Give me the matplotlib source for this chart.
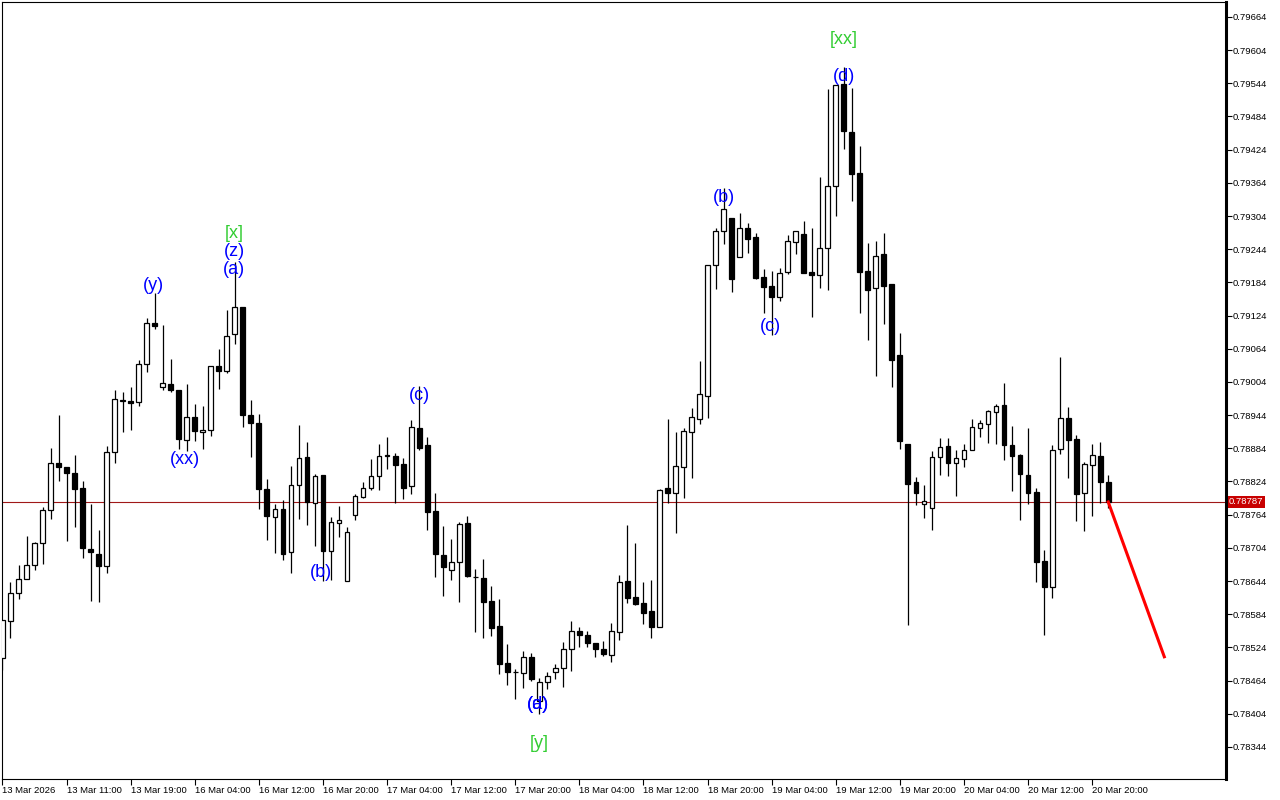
import matplotlib.pyplot as plt
import numpy as np

# hourly candles, EURGBP-like quotes
opens = [0.78505, 0.78572, 0.78622, 0.78648, 0.78673, 0.78713, 0.78772, 0.78857, 0.78850, 0.78839,
         0.78812, 0.78702, 0.78693, 0.78671, 0.78877, 0.78970, 0.78970, 0.78968, 0.79037, 0.79111,
         0.78995, 0.79000, 0.78990, 0.78899, 0.78941, 0.78914, 0.78917, 0.79033, 0.79024, 0.79091,
         0.79140, 0.78944, 0.78930, 0.78811, 0.78760, 0.78774, 0.78697, 0.78818, 0.78868, 0.78785,
         0.78836, 0.78698, 0.78749, 0.78644, 0.78764, 0.78796, 0.78812, 0.78834, 0.78870, 0.78870,
         0.78856, 0.78816, 0.78921, 0.78890, 0.78771, 0.78691, 0.78664, 0.78679, 0.78749, 0.78652,
         0.78650, 0.78608, 0.78563, 0.78496, 0.78480, 0.78478, 0.78507, 0.78427, 0.78462, 0.78480,
         0.78487, 0.78521, 0.78554, 0.78547, 0.78532, 0.78521, 0.78510, 0.78552, 0.78644, 0.78615,
         0.78604, 0.78590, 0.78561, 0.78812, 0.78803, 0.78850, 0.78914, 0.78937, 0.78979, 0.79216,
         0.79277, 0.79301, 0.79230, 0.79282, 0.79266, 0.79194, 0.79178, 0.79158, 0.79203, 0.79257,
         0.79272, 0.79203, 0.79197, 0.79246, 0.79358, 0.79543, 0.79456, 0.79382, 0.79205, 0.79174,
         0.79235, 0.79181, 0.79053, 0.78892, 0.78823, 0.78783, 0.78776, 0.78868, 0.78888, 0.78857,
         0.78865, 0.78881, 0.78921, 0.78928, 0.78950, 0.78962, 0.78890, 0.78872, 0.78836, 0.78805,
         0.78680, 0.78633, 0.78883, 0.78939, 0.78901, 0.78803, 0.78854, 0.78870, 0.78823]
highs = [0.78574, 0.78642, 0.78673, 0.78726, 0.78715, 0.78778, 0.78885, 0.78944, 0.78850, 0.78872,
         0.78825, 0.78783, 0.78736, 0.78888, 0.78990, 0.78986, 0.78995, 0.79044, 0.79120, 0.79165,
         0.79107, 0.79046, 0.78990, 0.79000, 0.78964, 0.78961, 0.79033, 0.79064, 0.79134, 0.79221,
         0.79140, 0.78971, 0.78946, 0.78829, 0.78783, 0.78791, 0.78852, 0.78926, 0.78896, 0.78838,
         0.78836, 0.78760, 0.78780, 0.78742, 0.78801, 0.78823, 0.78865, 0.78892, 0.78905, 0.78876,
         0.78867, 0.78935, 0.78997, 0.78905, 0.78803, 0.78744, 0.78720, 0.78751, 0.78762, 0.78666,
         0.78684, 0.78635, 0.78612, 0.78530, 0.78485, 0.78518, 0.78514, 0.78469, 0.78480, 0.78494,
         0.78534, 0.78572, 0.78561, 0.78554, 0.78532, 0.78536, 0.78568, 0.78655, 0.78745, 0.78713,
         0.78642, 0.78646, 0.78811, 0.78937, 0.78914, 0.78921, 0.78957, 0.79042, 0.79216, 0.79282,
         0.79355, 0.79301, 0.79310, 0.79292, 0.79273, 0.79208, 0.79205, 0.79210, 0.79270, 0.79277,
         0.79295, 0.79282, 0.79375, 0.79534, 0.79541, 0.79574, 0.79536, 0.79431, 0.79255, 0.79259,
         0.79273, 0.79181, 0.79093, 0.78892, 0.78832, 0.78818, 0.78879, 0.78903, 0.78903, 0.78881,
         0.78892, 0.78937, 0.78935, 0.78953, 0.78964, 0.79002, 0.78924, 0.78874, 0.78921, 0.78812,
         0.78700, 0.78890, 0.79049, 0.78959, 0.78908, 0.78859, 0.78892, 0.78896, 0.78836]
lows = [0.78483, 0.78541, 0.78612, 0.78648, 0.78664, 0.78675, 0.78756, 0.78825, 0.78717, 0.78742,
        0.78686, 0.78608, 0.78606, 0.78659, 0.78857, 0.78914, 0.78917, 0.78961, 0.79022, 0.79100,
        0.78990, 0.78986, 0.78883, 0.78879, 0.78897, 0.78883, 0.78906, 0.78991, 0.79020, 0.79073,
        0.78923, 0.78868, 0.78774, 0.78718, 0.78695, 0.78682, 0.78659, 0.78756, 0.78745, 0.78707,
        0.78644, 0.78646, 0.78724, 0.78644, 0.78754, 0.78794, 0.78809, 0.78809, 0.78847, 0.78785,
        0.78792, 0.78801, 0.78881, 0.78736, 0.78651, 0.78617, 0.78646, 0.78606, 0.78651, 0.78552,
        0.78541, 0.78545, 0.78476, 0.78456, 0.78431, 0.78451, 0.78463, 0.78404, 0.78449, 0.78467,
        0.78453, 0.78481, 0.78525, 0.78525, 0.78507, 0.78509, 0.78498, 0.78538, 0.78604, 0.78601,
        0.78566, 0.78541, 0.78560, 0.78785, 0.78731, 0.78794, 0.78830, 0.78928, 0.78939, 0.79172,
        0.79254, 0.79167, 0.79230, 0.79237, 0.79190, 0.79129, 0.79089, 0.79150, 0.79199, 0.79236,
        0.79201, 0.79122, 0.79174, 0.79170, 0.79304, 0.79425, 0.79331, 0.79129, 0.79080, 0.79015,
        0.79109, 0.78995, 0.78883, 0.78565, 0.78782, 0.78758, 0.78736, 0.78836, 0.78834, 0.78798,
        0.78850, 0.78881, 0.78905, 0.78894, 0.78892, 0.78863, 0.78807, 0.78754, 0.78783, 0.78642,
        0.78547, 0.78613, 0.78874, 0.78830, 0.78753, 0.78735, 0.78762, 0.78785, 0.78776]
closes = [0.78574, 0.78622, 0.78648, 0.78673, 0.78713, 0.78772, 0.78857, 0.78850, 0.78839, 0.78811,
          0.78704, 0.78697, 0.78671, 0.78877, 0.78973, 0.78971, 0.78966, 0.79037, 0.79111, 0.79105,
          0.79002, 0.78990, 0.78901, 0.78941, 0.78915, 0.78917, 0.79033, 0.79024, 0.79087, 0.79140,
          0.78944, 0.78930, 0.78811, 0.78762, 0.78774, 0.78693, 0.78818, 0.78867, 0.78787, 0.78834,
          0.78698, 0.78751, 0.78754, 0.78733, 0.78798, 0.78812, 0.78834, 0.78870, 0.78871, 0.78854,
          0.78812, 0.78923, 0.78885, 0.78769, 0.78693, 0.78670, 0.78679, 0.78747, 0.78653, 0.78651,
          0.78606, 0.78559, 0.78494, 0.78480, 0.78479, 0.78507, 0.78467, 0.78462, 0.78472, 0.78487,
          0.78521, 0.78554, 0.78547, 0.78532, 0.78521, 0.78512, 0.78554, 0.78642, 0.78613, 0.78603,
          0.78586, 0.78561, 0.78809, 0.78803, 0.78852, 0.78915, 0.78941, 0.78982, 0.79216, 0.79277,
          0.79317, 0.79190, 0.79282, 0.79263, 0.79192, 0.79176, 0.79158, 0.79201, 0.79259, 0.79277,
          0.79201, 0.79197, 0.79246, 0.79358, 0.79541, 0.79458, 0.79380, 0.79203, 0.79170, 0.79232,
          0.79178, 0.79044, 0.78897, 0.78820, 0.78803, 0.78789, 0.78868, 0.78886, 0.78857, 0.78867,
          0.78881, 0.78923, 0.78930, 0.78952, 0.78961, 0.78890, 0.78870, 0.78838, 0.78803, 0.78679,
          0.78633, 0.78881, 0.78939, 0.78899, 0.78801, 0.78856, 0.78872, 0.78823, 0.78787]

time_labels = ["13 Mar 2026", "13 Mar 11:00", "13 Mar 19:00", "16 Mar 04:00", "16 Mar 12:00",
               "16 Mar 20:00", "17 Mar 04:00", "17 Mar 12:00", "17 Mar 20:00", "18 Mar 04:00",
               "18 Mar 12:00", "18 Mar 20:00", "19 Mar 04:00", "19 Mar 12:00", "19 Mar 20:00",
               "20 Mar 04:00", "20 Mar 12:00", "20 Mar 20:00"]

# wave marks: text, bar index, price, colour
wave_text = ["(y)", "[x]", "(z)", "(a)", "(xx)", "(b)", "(c)", "(a)", "(d)", "[y]", "(b)", "(c)", "[xx]", "(d)"]
wave_bar = [18.8, 28.9, 28.9, 28.9, 22.8, 39.8, 52.0, 66.8, 66.8, 67.0, 90.0, 95.8, 105.0, 105.0]
wave_price = [0.79179, 0.79273, 0.79239, 0.79207, 0.78863, 0.78660, 0.78979, 0.78420, 0.78420, 0.78351,
              0.79338, 0.79105, 0.79624, 0.79557]
wave_color = ["blue", "limegreen", "blue", "blue", "blue", "blue", "blue", "blue", "blue", "limegreen",
              "blue", "blue", "limegreen", "blue"]

last_price = 0.78787
forecast_bars = [138, 145]
forecast_prices = [0.78787, 0.78507]

o = np.array(opens)
h = np.array(highs)
l = np.array(lows)
c = np.array(closes)
x = np.arange(len(o))
up = c >= o

fig = plt.figure(figsize=(12.8, 8), dpi=100)
ax = fig.add_axes([2 / 1280, 21 / 800, 1224 / 1280, 777 / 800])

ax.vlines(x, l, h, color="black", lw=0.9, zorder=2)
body_lo = np.minimum(o, c)
body_h = np.maximum(np.abs(c - o), 0.000004)
ax.bar(x[up], body_h[up], bottom=body_lo[up], width=0.6, color="white", edgecolor="black", lw=0.9, zorder=3)
ax.bar(x[~up], body_h[~up], bottom=body_lo[~up], width=0.6, color="black", edgecolor="black", lw=0.9, zorder=3)

ax.axhline(last_price, color="#a01818", lw=0.8, zorder=1)
ax.plot(forecast_bars, forecast_prices, color="red", lw=2.2, zorder=4)

for t, xb, yp, col in zip(wave_text, wave_bar, wave_price, wave_color):
    ax.text(xb, yp, t, color=col, fontsize=13, family="Liberation Sans", ha="center", va="center", zorder=5)

ax.set_xlim(-0.06, 152.7)
ax.set_ylim(0.78286, 0.79691)

ax.set_xticks(np.arange(0, len(o), 8))
ax.set_xticklabels(time_labels, ha="left", fontsize=6.8, family="Liberation Sans")
ax.tick_params(axis="x", length=4, width=0.8, pad=1)

ax.yaxis.tick_right()
yt = np.arange(0.78344, 0.79670, 0.0006)
ax.set_yticks(yt)
ax.set_yticklabels(["%.5f" % v for v in yt], fontsize=6.8, family="Liberation Sans")
ax.tick_params(axis="y", length=4, width=0.8, pad=1)

for s in ["left", "top", "bottom"]:
    ax.spines[s].set_linewidth(0.8)
ax.spines["right"].set_linewidth(2.2)

ax.annotate("%.5f" % last_price, xy=(1.0, last_price), xycoords=("axes fraction", "data"),
            xytext=(3, 0), textcoords="offset pixels", ha="left", va="center",
            fontsize=6.8, family="Liberation Sans", color="white",
            bbox=dict(boxstyle="square,pad=0.15", fc="#c80000", ec="none"), annotation_clip=False)

fig.savefig("out.png", dpi=100)
